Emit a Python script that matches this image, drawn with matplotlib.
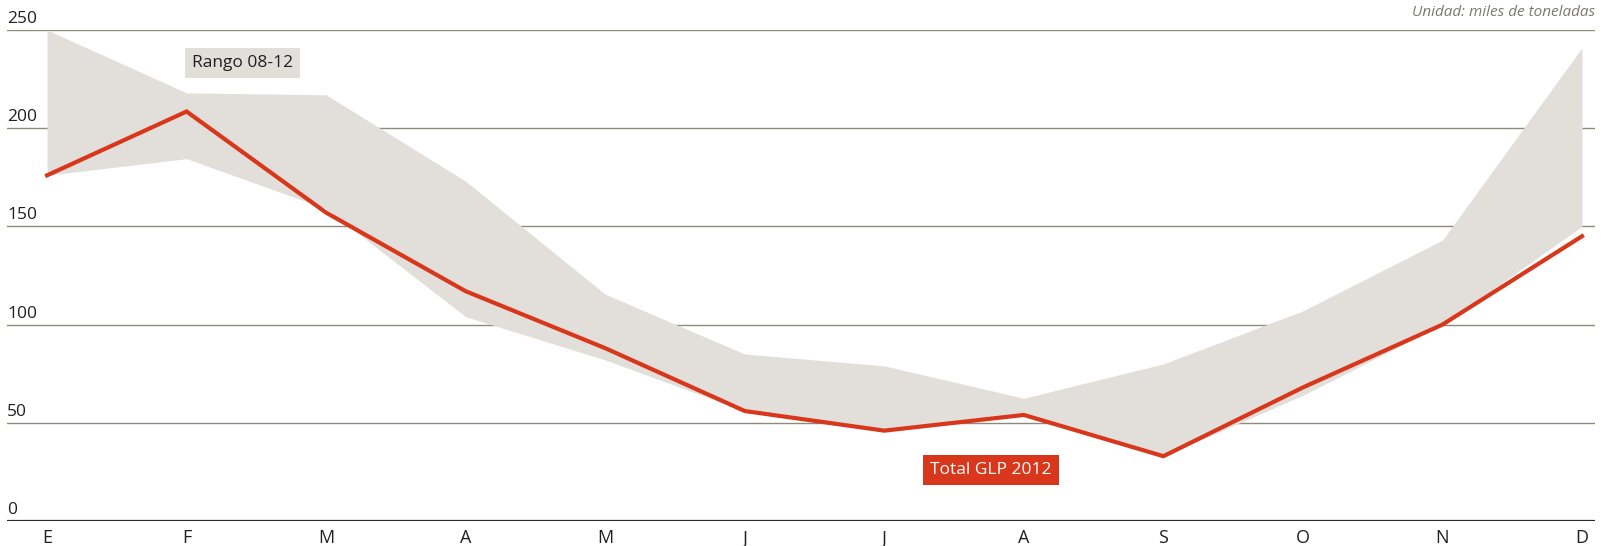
import matplotlib
matplotlib.use("Agg")
from matplotlib import pyplot as plt

# valores (miles de toneladas)
meses = ["E", "F", "M", "A", "M", "J", "J", "A", "S", "O", "N", "D"]
total_2012 = [176, 208.5, 157, 117, 88, 56, 46, 54, 33, 68, 100, 145]
rango_max = [250, 218, 217, 173, 115.5, 85, 79, 62.5, 80, 107, 143, 241]
rango_min = [176, 184.5, 159, 104, 82, 56, 46, 54, 33, 64, 100, 150]
y_ticks = [0, 50, 100, 150, 200, 250]

GRIS_BANDA = "#e2dfdb"
ROJO = "#d8371b"
GRID = "#8b8a7c"
TEXTO = "#231f20"

plt.rcParams["font.family"] = ["Open Sans", "DejaVu Sans"]

fig = plt.figure(figsize=(16.12, 5.46), dpi=100)
ax = fig.add_axes([7 / 1612, 25 / 546, 1588 / 1612, 491 / 546])

x = list(range(len(meses)))
ax.fill_between(x, rango_min, rango_max, color=GRIS_BANDA, lw=0, zorder=1)
ax.plot(x, total_2012, color=ROJO, lw=3, solid_joinstyle="miter", zorder=3)

ax.set_xlim(-0.287, 11.093)
ax.set_ylim(0, 250)

for v in y_ticks:
    if v == 0:
        ax.axhline(v, color="#2b2b2b", lw=1.6, zorder=2)
    else:
        ax.axhline(v, color=GRID, lw=1, zorder=0)
    ax.text(0, v + 1.5, str(v), transform=ax.get_yaxis_transform(),
            ha="left", va="bottom", fontsize=12.5, color=TEXTO)

ax.set_xticks(x)
ax.set_xticklabels(meses, fontsize=13, color=TEXTO)
ax.tick_params(axis="x", length=0, pad=6)
ax.set_yticks([])
for s in ax.spines.values():
    s.set_visible(False)

ax.text(1.04, 233, "Rango 08-12", fontsize=12.5, color=TEXTO, ha="left", va="center",
        bbox=dict(facecolor=GRIS_BANDA, edgecolor="none", pad=5))
ax.text(6.33, 26, "Total GLP 2012", fontsize=12.5, color="white", ha="left", va="center",
        bbox=dict(facecolor=ROJO, edgecolor="none", pad=5))

fig.text(1595 / 1612, 1 - 12 / 546, "Unidad: miles de toneladas", ha="right", va="center",
         fontsize=11, style="italic", color="#7a786e")

fig.savefig("out.png", dpi=100)
